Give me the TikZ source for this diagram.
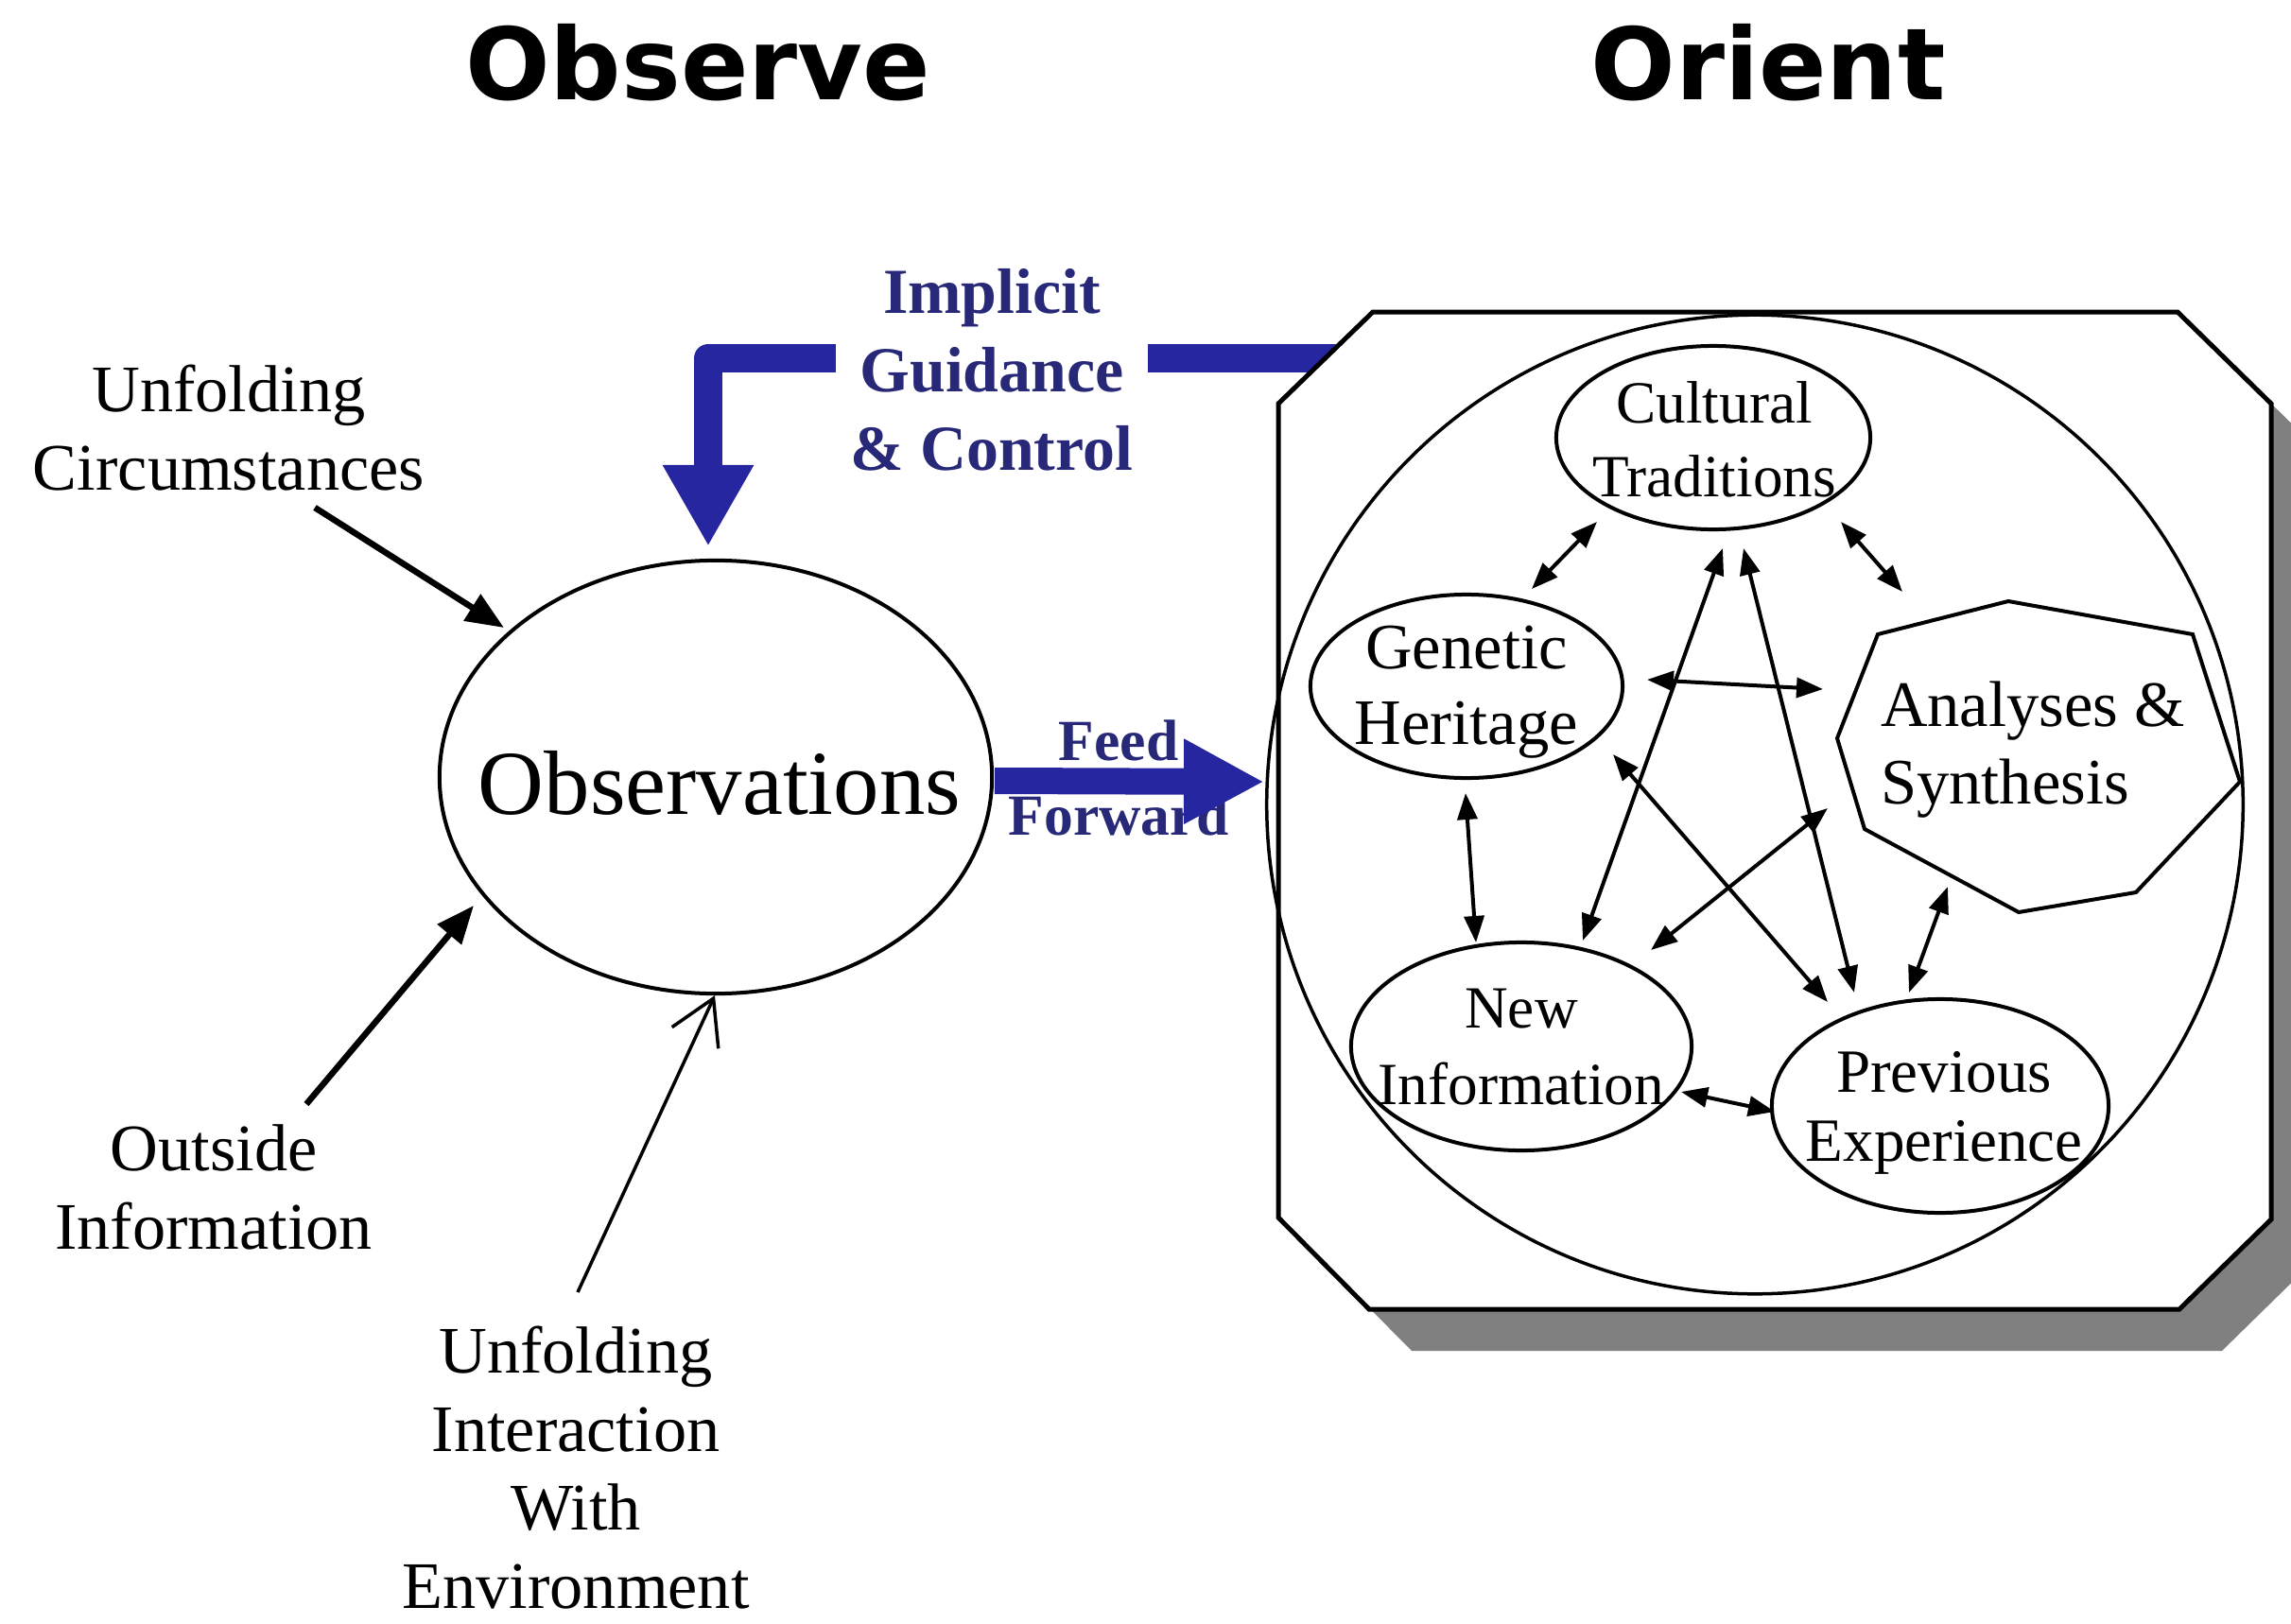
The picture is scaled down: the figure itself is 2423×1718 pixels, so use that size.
\documentclass[tikz,border=0pt]{standalone}
\usepackage{fontspec}
\setmainfont{Liberation Serif}
\newfontfamily\titlefont{DejaVu Sans}
\usetikzlibrary{arrows.meta,shapes.geometric,calc}
\definecolor{boydblue}{RGB}{38,38,160}
\definecolor{boydtext}{RGB}{40,40,120}
\definecolor{shadowgray}{RGB}{128,128,128}
\begin{document}
\begin{tikzpicture}[x=0.01cm,y=-0.01cm,
  lbl/.style={align=center, inner sep=0pt, font=\fontsize{20}{23.6}\selectfont},
  bluelbl/.style={align=center, inner sep=0pt, text=boydtext, font=\fontsize{19.3}{23.6}\selectfont\bfseries},
  ttl/.style={inner sep=0pt, anchor=base, font=\titlefont\bfseries\fontsize{30}{36}\selectfont},
  oval/.style={draw, ellipse, line width=0.04cm, inner sep=0pt},
  inlbl/.style={align=center, inner sep=0pt},
  two/.style={line width=0.04cm, {Triangle[length=0.28cm,width=0.21cm]}-{Triangle[length=0.28cm,width=0.21cm]}},
  bigarrow/.style={line width=0.065cm, -{Triangle[length=0.40cm,width=0.32cm]}},
  thinarrow/.style={line width=0.035cm, -{Straight Barb[length=0.46cm,width=0.54cm]}},
  fatblue/.style={draw=boydblue, line width=0.30cm, line join=round, -{Triangle[length=0.86cm,width=0.90cm]}},
]
\useasboundingbox (0,0) rectangle (2423,1718);

% titles
\node[ttl] (obsT) at (738,105) {Observe};
\node[ttl] (oriT) at (1870,105) {Orient};

% observations
\node[oval, minimum width=5.84cm, minimum height=4.58cm] (obs) at (757,822) {};
\node[inner sep=0pt, anchor=base, font=\fontsize{27.5}{33}\selectfont] (obsL) at (761,861) {Observations};

% outside labels
\node[lbl] (uc) at (242,453) {Unfolding\\Circumstances};
\node[lbl] (oi) at (226,1256) {Outside\\Information};
\node[lbl] (ui) at (609,1553) {Unfolding\\Interaction\\With\\Environment};

\draw[bigarrow] ([shift={(91,84)}]uc.center) -- ([shift={(-224,-158)}]obs.center);
\draw[bigarrow] ([shift={(98,-88)}]oi.center) -- ([shift={(-256,136)}]obs.center);
\draw[thinarrow] ([shift={(2,-186)}]ui.center) -- ([shift={(-1,231)}]obs.center);

% shadow of orient box
\fill[shadowgray, shift={(45,44)}] (1352,427) -- (1452,330) -- (2303,330) -- (2402,427) -- (2402,1290) -- (2305,1385) -- (1448,1385) -- (1352,1288) -- cycle;

% implicit guidance arrow
\coordinate (ctl) at (1430,379);
\draw[fatblue] (ctl) -| ([shift={(-8,-244)}]obs.center);

% orient box
\draw[line width=0.05cm, fill=white] (1352,427) -- (1452,330) -- (2303,330) -- (2402,427) -- (2402,1290) -- (2305,1385) -- (1448,1385) -- (1352,1288) -- cycle;

\node[bluelbl, fill=white, minimum width=3.3cm] (igc) at (1049,391) {Implicit\\Guidance\\\& Control};

% big circle
\node[draw, ellipse, line width=0.035cm, minimum width=10.32cm, minimum height=10.35cm, inner sep=0pt] (orient) at (1856,851) {};

% inner ellipses
\node[oval, minimum width=3.32cm, minimum height=1.94cm] (cult) at (1812,463) {};
\node[oval, minimum width=3.30cm, minimum height=1.94cm] (gen) at (1551,726) {};
\node[oval, minimum width=3.60cm, minimum height=2.20cm] (newi) at (1609,1107) {};
\node[oval, minimum width=3.56cm, minimum height=2.26cm] (prev) at (2052,1170) {};
\draw[line width=0.04cm] (2124,636) -- (2319,671) -- (2369,827) -- (2259,944) -- (2135,965) -- (1972,877) -- (1943,781) -- (1986,671) -- cycle;

% inner labels
\node[inlbl, font=\fontsize{18}{22.2}\selectfont] (cultT) at (1813,465) {Cultural\\Traditions};
\node[inlbl, font=\fontsize{19.5}{22.8}\selectfont] (genT) at (1551,732) {Genetic\\Heritage};
\node[inlbl, align=left, font=\fontsize{19.5}{23.3}\selectfont] (ana) at (2150,793) {Analyses \&\\Synthesis};
\node[inlbl, font=\fontsize{18}{23}\selectfont] (newT) at (1609,1108) {New\\Information};
\node[inlbl, font=\fontsize{18.5}{20.8}\selectfont] (prevT) at (2056,1177) {Previous\\Experience};

% inner arrows
\draw[two] ([shift={(-123,89)}]cult.center) -- ([shift={(69,-103)}]gen.center);
\draw[two] ([shift={(135,89)}]cult.center) -- ([shift={(-138,-167)}]ana.center);
\draw[two] ([shift={(191,-7)}]gen.center) -- ([shift={(-222,-64)}]ana.center);
\draw[two] ([shift={(-1,113)}]gen.center) -- ([shift={(-48,-110)}]newi.center);
\draw[two] ([shift={(10,117)}]cult.center) -- ([shift={(65,-112)}]newi.center);
\draw[two] ([shift={(32,117)}]cult.center) -- ([shift={(-91,-120)}]prev.center);
\draw[two] ([shift={(155,72)}]gen.center) -- ([shift={(-119,-110)}]prev.center);
\draw[two] ([shift={(-217,62)}]ana.center) -- ([shift={(137,-102)}]newi.center);
\draw[two] ([shift={(-90,145)}]ana.center) -- ([shift={(-33,-120)}]prev.center);
\draw[two] ([shift={(169,48)}]newi.center) -- ([shift={(-175,6)}]prev.center);

% feed forward
\node[inlbl, text=boydtext, font=\fontsize{17.5}{22.5}\selectfont\bfseries] (ff) at (1183,823) {Feed\\Forward};
\draw[fatblue, line width=0.28cm, -{Triangle[length=0.85cm,width=0.84cm]}] ([shift={(295,4)}]obs.center) -- ([shift={(-519,-24)}]orient.center);
\end{tikzpicture}
\end{document}
